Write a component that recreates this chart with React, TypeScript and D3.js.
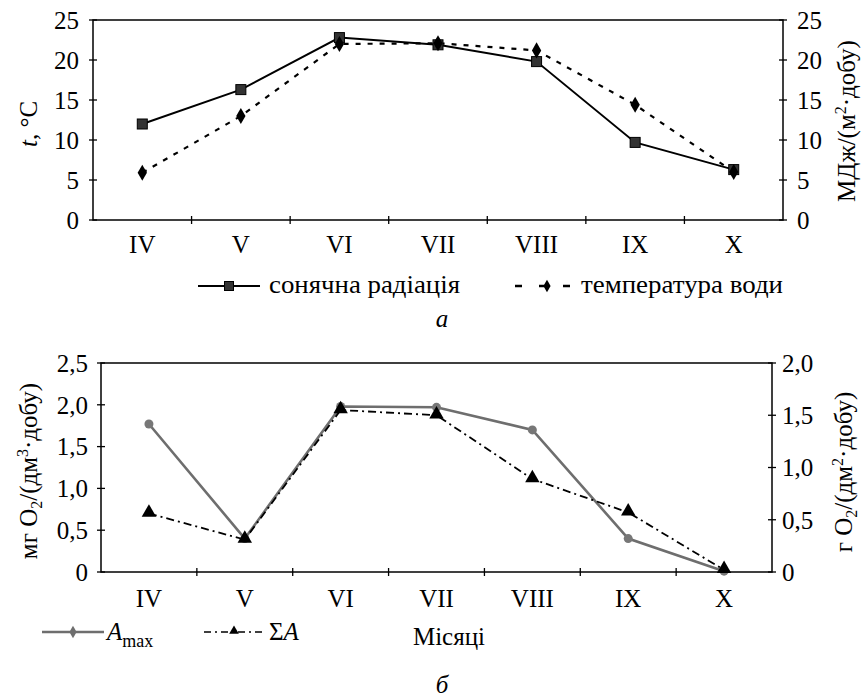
import React from "react";
import * as d3 from "d3";

const months = ["IV", "V", "VI", "VII", "VIII", "IX", "X"];
const radiation = [12.0, 16.3, 22.8, 21.9, 19.8, 9.7, 6.3];
const waterTemp = [5.9, 13.0, 22.0, 22.1, 21.2, 14.4, 6.0];
const topTicks = [0, 5, 10, 15, 20, 25];
const aMax = [1.77, 0.4, 1.98, 1.97, 1.7, 0.4, 0.01];
const sumA = [0.56, 0.31, 1.55, 1.5, 0.89, 0.57, 0.02];
const leftTicksB = [0, 0.5, 1.0, 1.5, 2.0, 2.5];
const rightTicksB = [0, 0.5, 1.0, 1.5, 2.0];

const FONT = "Liberation Serif";
const fmt = (v: number) => (v === 0 ? "0" : v.toFixed(1).replace(".", ","));
const FS = 25;

export default function App() {
  // top chart
  const tx = d3.scaleBand().domain(months).range([93, 783]);
  const ty = d3.scaleLinear().domain([0, 25]).range([220, 20]);
  const tyR = d3.scaleLinear().domain([0, 25]).range([220, 20]);
  const cx = (m: string) => (tx(m) as number) + tx.bandwidth() / 2;
  const radLine = d3.line<number>().x((_, i) => cx(months[i])).y((d) => tyR(d));
  const tempLine = d3.line<number>().x((_, i) => cx(months[i])).y((d) => ty(d));

  // bottom chart
  const bx = d3.scaleBand().domain(months).range([101, 772]);
  const by = d3.scaleLinear().domain([0, 2.5]).range([572, 363]);
  const byR = d3.scaleLinear().domain([0, 2.0]).range([572, 363]);
  const bcx = (m: string) => (bx(m) as number) + bx.bandwidth() / 2;
  const aLine = d3.line<number>().x((_, i) => bcx(months[i])).y((d) => by(d));
  const sLine = d3.line<number>().x((_, i) => bcx(months[i])).y((d) => byR(d));

  const diamond = d3.symbol().type(d3.symbolDiamond).size(75)() as string;
  const diamondSmall = d3.symbol().type(d3.symbolDiamond).size(45)() as string;
  const tri = d3.symbol().type(d3.symbolTriangle).size(90)() as string;
  const triSmall = d3.symbol().type(d3.symbolTriangle).size(40)() as string;

  const T = (p: any) => <text fontFamily={FONT} {...p} />;

  return (
    <svg width={862} height={698} style={{ display: "block", position: "absolute", left: 0, top: 0, fontFamily: FONT }}>
      <rect width={862} height={698} fill="#fff" />
      {/* ===== TOP CHART ===== */}
      <g>
        <rect x={93} y={20} width={690} height={200} fill="none" stroke="#000" strokeWidth={1.5} />
        {topTicks.map((t) => (
          <g key={"tl" + t}>
            <line x1={89} x2={97} y1={ty(t)} y2={ty(t)} stroke="#000" strokeWidth={1.3} />
            <T x={79} y={ty(t)} dy="0.35em" textAnchor="end" fontSize={FS}>{t}</T>
            <line x1={779} x2={787} y1={tyR(t)} y2={tyR(t)} stroke="#000" strokeWidth={1.3} />
            <T x={797} y={tyR(t)} dy="0.35em" textAnchor="start" fontSize={FS}>{t}</T>
          </g>
        ))}
        {months.slice(1).map((m) => (
          <line key={"tt" + m} x1={tx(m)} x2={tx(m)} y1={216} y2={224} stroke="#000" strokeWidth={1.3} />
        ))}
        {months.map((m) => (
          <T key={"txl" + m} x={cx(m)} y={253} textAnchor="middle" fontSize={FS}>{m}</T>
        ))}
        <path d={tempLine(waterTemp) as string} fill="none" stroke="#000" strokeWidth={2.2} strokeDasharray="5,7" />
        <path d={radLine(radiation) as string} fill="none" stroke="#000" strokeWidth={2} />
        {radiation.map((v, i) => (
          <rect key={"sq" + i} x={cx(months[i]) - 5} y={tyR(v) - 5} width={10} height={10} fill="#333" stroke="#000" strokeWidth={1} />
        ))}
        {waterTemp.map((v, i) => (
          <path key={"dm" + i} d={diamond} transform={`translate(${cx(months[i])},${ty(v)})`} fill="#000" />
        ))}
        <T transform="translate(37,124) rotate(-90)" textAnchor="middle" fontSize={FS}>
          <tspan fontStyle="italic">t</tspan>, °C
        </T>
        <T transform="translate(855,121) rotate(-90)" textAnchor="middle" fontSize={FS}>
          МДж/(м<tspan fontSize={16} dy={-9}>2</tspan><tspan dy={9}>·добу)</tspan>
        </T>
        {/* legend */}
        <line x1={198} x2={260} y1={286} y2={286} stroke="#000" strokeWidth={2} />
        <rect x={224.5} y={281.5} width={9} height={9} fill="#333" stroke="#000" />
        <T x={269} y={293} fontSize={26} textLength={191} lengthAdjust="spacingAndGlyphs">сонячна радіація</T>
        <line x1={515} x2={578} y1={286} y2={286} stroke="#000" strokeWidth={2.4} strokeDasharray="7,17" />
        <path d={diamondSmall} transform="translate(547,286)" fill="#000" />
        <T x={581} y={293} fontSize={26} textLength={202} lengthAdjust="spacingAndGlyphs">температура води</T>
        <T x={442} y={327} textAnchor="middle" fontSize={FS} fontStyle="italic">а</T>
      </g>

      {/* ===== BOTTOM CHART ===== */}
      <g>
        <rect x={101} y={363} width={671} height={209} fill="none" stroke="#000" strokeWidth={1.5} />
        {leftTicksB.map((t) => (
          <g key={"bl" + t}>
            <line x1={97} x2={105} y1={by(t)} y2={by(t)} stroke="#000" strokeWidth={1.3} />
            <T x={88} y={by(t)} dy="0.35em" textAnchor="end" fontSize={FS}>{fmt(t)}</T>
          </g>
        ))}
        {rightTicksB.map((t) => (
          <g key={"br" + t}>
            <line x1={768} x2={776} y1={byR(t)} y2={byR(t)} stroke="#000" strokeWidth={1.3} />
            <T x={782} y={byR(t)} dy="0.35em" textAnchor="start" fontSize={FS}>{fmt(t)}</T>
          </g>
        ))}
        {months.slice(1).map((m) => (
          <line key={"bt" + m} x1={bx(m)} x2={bx(m)} y1={568} y2={576} stroke="#000" strokeWidth={1.3} />
        ))}
        {months.map((m) => (
          <T key={"bxl" + m} x={bcx(m)} y={607} textAnchor="middle" fontSize={FS}>{m}</T>
        ))}
        <path d={aLine(aMax) as string} fill="none" stroke="#6e6e6e" strokeWidth={2.6} />
        <path d={sLine(sumA) as string} fill="none" stroke="#000" strokeWidth={1.8} strokeDasharray="8,4,2,4" />
        {aMax.map((v, i) => (
          <circle key={"c" + i} cx={bcx(months[i])} cy={by(v)} r={4.5} fill="#777" />
        ))}
        {sumA.map((v, i) => (
          <path key={"t" + i} d={tri} transform={`translate(${bcx(months[i])},${byR(v) - 1})`} fill="#000" />
        ))}
        <T transform="translate(37,471) rotate(-90)" textAnchor="middle" fontSize={FS}>
          мг O<tspan fontSize={16} dy={5}>2</tspan><tspan dy={-5}>/(дм</tspan><tspan fontSize={16} dy={-9}>3</tspan><tspan dy={9}>·добу)</tspan>
        </T>
        <T transform="translate(852,472) rotate(-90)" textAnchor="middle" fontSize={FS}>
          г O<tspan fontSize={16} dy={5}>2</tspan><tspan dy={-5}>/(дм</tspan><tspan fontSize={16} dy={-9}>2</tspan><tspan dy={9}>·добу)</tspan>
        </T>
        {/* legend */}
        <line x1={42} x2={104} y1={632} y2={632} stroke="#6e6e6e" strokeWidth={2.6} />
        <path d={diamondSmall} transform="translate(73,632)" fill="#6e6e6e" />
        <T x={107} y={640} fontSize={FS} fontStyle="italic">A<tspan fontSize={18} fontStyle="normal" dy={7}>max</tspan></T>
        <line x1={204} x2={265} y1={632} y2={632} stroke="#000" strokeWidth={1.6} strokeDasharray="7,4,2,4" />
        <path d={triSmall} transform="translate(234,631)" fill="#000" />
        <T x={269} y={640} fontSize={FS}>Σ<tspan fontStyle="italic">A</tspan></T>
        <T x={449} y={645} textAnchor="middle" fontSize={FS}>Місяці</T>
        <T x={442} y={693} textAnchor="middle" fontSize={FS} fontStyle="italic">б</T>
      </g>
    </svg>
  );
}
